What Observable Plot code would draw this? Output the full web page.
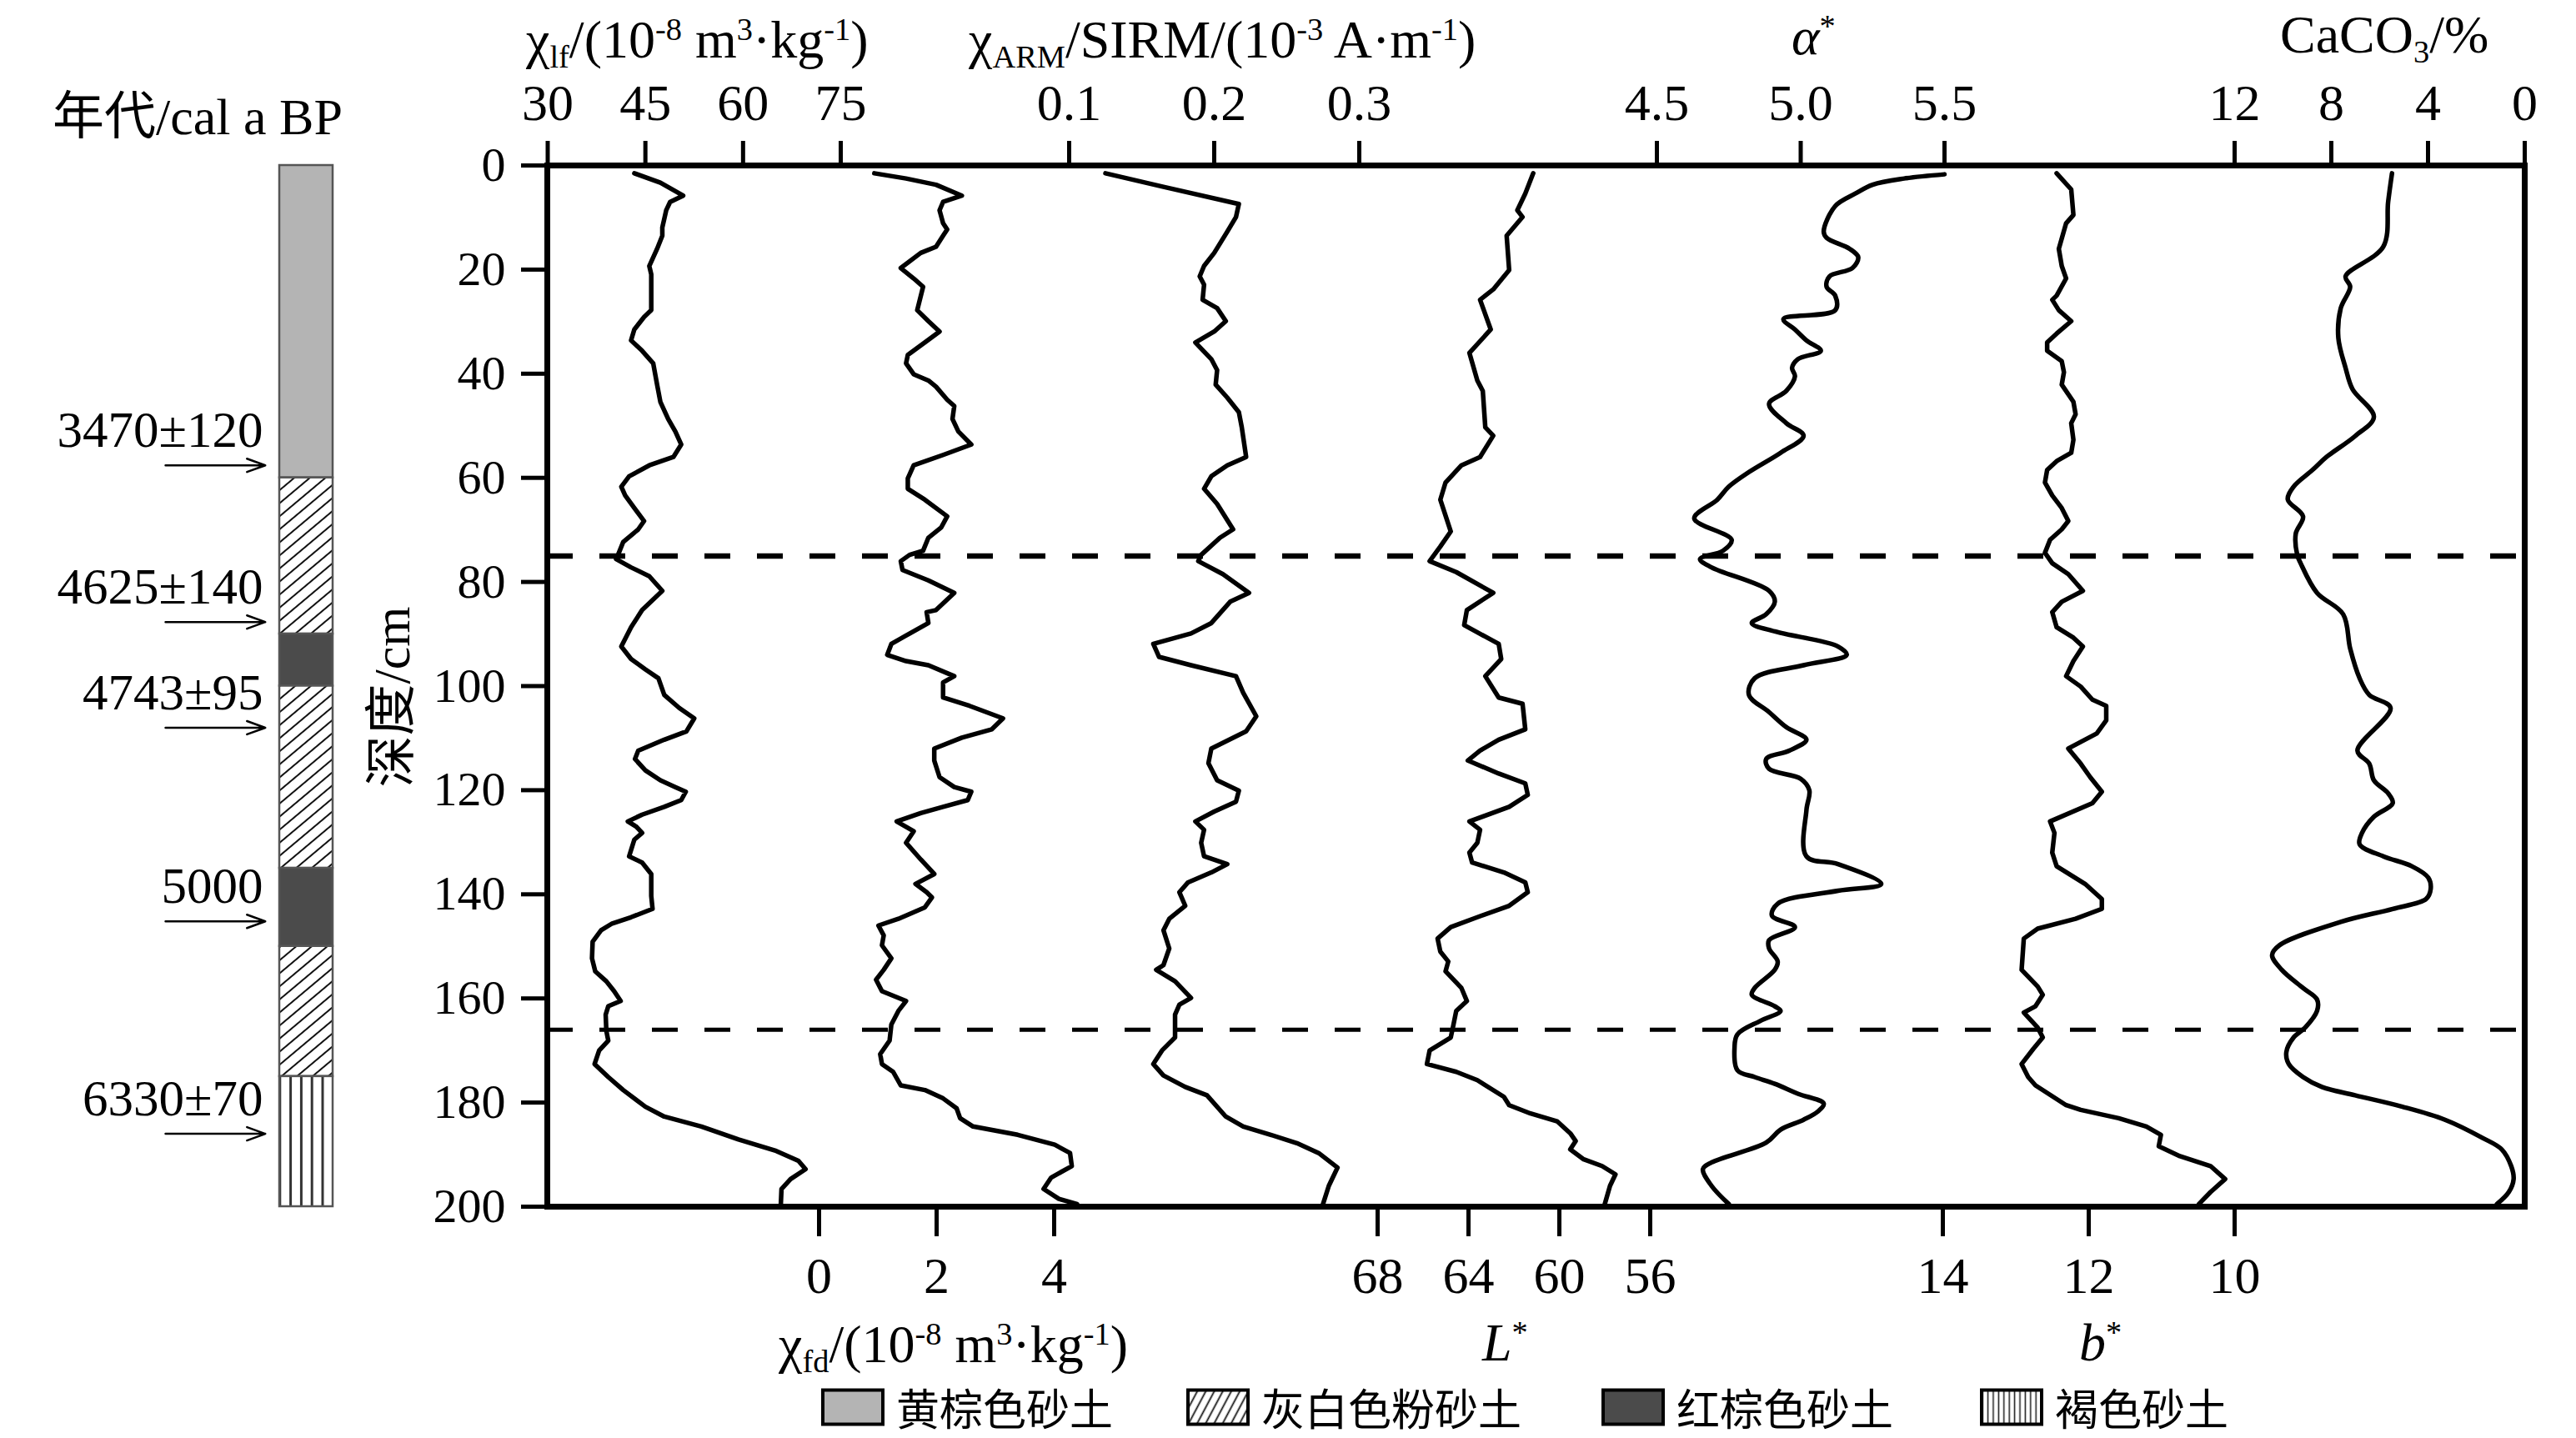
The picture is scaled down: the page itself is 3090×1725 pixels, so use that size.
<!DOCTYPE html>
<html>
<head>
<meta charset="utf-8">
<script src="https://cdn.jsdelivr.net/npm/d3@7"></script>
<script src="https://cdn.jsdelivr.net/npm/@observablehq/plot@0.6"></script>
<style>
html,body{margin:0;padding:0;background:#fff;overflow:hidden}
#chart{position:relative;width:3090px;height:1725px;font-family:"Liberation Serif","Times New Roman",serif;color:#000;background:#fff;overflow:hidden}
#chart svg.layer{position:absolute;left:0;top:0}
.t{position:absolute;white-space:nowrap;line-height:1;font-size:64px}
.sub{font-size:0.6em;position:relative;top:0.3em}
.sup{font-size:0.6em;position:relative;top:-0.55em}
.cjk{font-family:"Noto Sans CJK SC",sans-serif}
.leg{position:absolute;top:1664px;height:48px;display:flex;align-items:center;font-family:"Noto Sans CJK SC",sans-serif;font-size:52px;line-height:1}
.leg svg{display:block;margin-right:14px}
</style>
</head>
<body>
<svg width="0" height="0" style="position:absolute">
  <defs>
    <pattern id="hatchCol" patternUnits="userSpaceOnUse" width="12" height="12" patternTransform="rotate(50)">
      <rect width="12" height="12" fill="#fff"/>
      <line x1="6" y1="0" x2="6" y2="12" stroke="#111" stroke-width="2"/>
    </pattern>
    <pattern id="vlinesCol" patternUnits="userSpaceOnUse" x="1.5" width="12.8" height="20">
      <rect width="12.8" height="20" fill="#fff"/>
      <line x1="1.5" y1="0" x2="1.5" y2="20" stroke="#333" stroke-width="3"/>
    </pattern>
    <pattern id="hatchLeg" patternUnits="userSpaceOnUse" width="9" height="9" patternTransform="rotate(28)">
      <rect width="9" height="9" fill="#fff"/>
      <line x1="4.5" y1="0" x2="4.5" y2="9" stroke="#111" stroke-width="1.8"/>
    </pattern>
    <pattern id="vlinesLeg" patternUnits="userSpaceOnUse" width="6.4" height="10">
      <rect width="6.4" height="10" fill="#fff"/>
      <line x1="3.2" y1="0" x2="3.2" y2="10" stroke="#222" stroke-width="1.6"/>
    </pattern>
  </defs>
</svg>
<div id="chart"></div>
<script>
// ---------------- data ----------------
const depthTicks = [0, 20, 40, 60, 80, 100, 120, 140, 160, 180, 200];
const chiLfTicks = [30, 45, 60, 75];
const chiFdTicks = [0, 2, 4];
const armTicks = [0.1, 0.2, 0.3];
const lTicks = [68, 64, 60, 56];
const alphaTicks = [4.5, 5.0, 5.5];
const bTicks = [14, 12, 10];
const caco3Ticks = [12, 8, 4, 0];
const boundaryDepths = [75, 166];

const lithTop = [0, 60, 90, 100, 135, 150, 175];
const lithBottom = [60, 90, 100, 135, 150, 175, 200];
const lithType = ["黄棕色砂土", "灰白色粉砂土", "红棕色砂土", "灰白色粉砂土", "红棕色砂土", "灰白色粉砂土", "褐色砂土"];
const lithNames = ["黄棕色砂土", "灰白色粉砂土", "红棕色砂土", "褐色砂土"];

const ageLabels = ["3470±120", "4625±140", "4743±95", "5000", "6330±70"];
const ageDepths = [57.6, 87.7, 108.0, 145.2, 186.0];

const depthChiLf = [1.5,3.3,5.8,7.0,8.6,11.9,13.5,16.0,19.3,20.9,27.8,29.1,31.5,33.6,35.6,38.0,42.1,45.4,48.7,51.1,53.6,56.0,57.6,59.7,61.7,63.4,65.8,68.3,69.9,72.3,74.8,75.6,77.2,78.9,81.7,85.4,88.7,92.4,94.8,96.8,98.5,101.7,104.2,106.2,108.7,110.3,112.4,114.0,116.2,118.1,119.4,120.3,121.9,123.2,124.7,126.0,127.0,128.2,129.5,132.7,133.9,136.1,140.3,142.8,144.4,145.6,146.9,149.1,152.3,154.8,156.7,158.6,160.5,161.5,163.1,166.2,168.1,170.0,172.6,175.1,177.6,180.8,182.7,184.6,187.1,189.3,191.2,192.8,194.7,196.6,199.5];
const chiLf = [43.3,47.3,50.8,48.8,48.2,47.6,47.6,46.8,45.6,45.9,45.9,44.8,43.3,42.8,44.5,46.2,46.8,47.3,48.5,49.6,50.5,49.3,45.6,42.5,41.3,41.9,43.3,44.8,43.9,41.6,40.8,40.5,42.8,45.6,47.6,44.5,42.8,41.3,42.8,45.0,47.0,47.9,50.2,52.5,51.3,47.9,43.9,43.4,45.0,47.3,49.6,51.2,50.5,47.9,44.5,42.3,43.6,44.5,43.3,42.5,44.5,45.9,45.9,46.1,42.8,39.9,38.2,36.9,36.8,37.3,39.0,40.2,41.2,39.3,38.9,39.0,39.3,37.9,37.2,39.3,41.6,45.0,47.9,53.6,59.3,65.1,68.5,69.6,67.3,65.9,65.8];

const depthChiFd = [1.5,2.5,3.7,5.8,7.0,8.6,11.1,12.3,13.5,15.6,16.8,19.7,21.7,23.3,27.8,29.9,31.9,34.0,36.4,38.0,40.1,41.3,42.5,45.0,46.2,48.7,51.1,53.6,55.6,57.6,60.1,62.1,64.2,67.4,69.5,71.5,74.0,74.8,76.0,77.7,79.7,82.1,85.4,85.8,87.9,90.3,91.9,94.0,95.2,96.0,98.1,99.3,102.2,103.8,106.2,108.3,109.9,112.0,114.3,117.5,119.4,120.3,121.9,123.2,124.4,126.0,127.9,130.1,133.3,136.1,138.0,139.6,140.6,142.5,144.7,146.0,147.9,149.8,152.3,154.5,156.4,158.6,160.5,162.4,165.0,168.1,170.7,172.6,174.1,176.7,177.6,179.2,181.1,183.0,184.6,186.2,188.1,189.7,192.2,194.4,196.6,198.5,199.5];
const chiFd = [0.94,1.48,1.99,2.43,2.11,2.05,2.11,2.18,2.11,1.99,1.73,1.39,1.61,1.77,1.67,1.86,2.05,1.80,1.51,1.48,1.61,1.86,1.99,2.18,2.30,2.27,2.37,2.59,2.11,1.61,1.51,1.51,1.80,2.18,2.08,1.86,1.77,1.54,1.39,1.42,1.86,2.30,1.99,1.83,1.86,1.48,1.23,1.16,1.48,1.86,2.30,2.11,2.11,2.56,3.13,2.94,2.43,1.96,1.96,2.05,2.30,2.59,2.53,2.11,1.73,1.32,1.61,1.48,1.73,1.96,1.64,1.83,1.92,1.80,1.35,1.01,1.10,1.07,1.23,1.10,0.97,1.07,1.48,1.35,1.23,1.20,1.04,1.07,1.26,1.39,1.80,2.11,2.34,2.40,2.62,3.38,4.01,4.27,4.30,3.95,3.82,4.08,4.39];

const depthArm = [1.5,4.1,7.4,9.9,12.7,16.8,19.3,21.3,22.9,25.8,27.4,29.9,31.9,34.0,37.2,39.3,42.1,44.6,47.4,50.3,56.0,57.6,59.7,62.1,65.0,69.9,71.5,74.8,76.0,78.5,82.1,83.8,87.9,89.9,91.9,94.4,96.0,98.1,101.3,105.8,108.7,112.0,114.8,118.1,120.1,122.2,124.1,126.0,127.6,130.1,132.7,134.2,135.8,137.7,139.6,142.2,144.7,146.9,150.4,153.6,154.5,156.7,159.9,161.2,163.1,167.5,170.0,172.6,174.8,177.0,178.6,182.7,184.6,186.2,187.8,189.7,192.5,196.0,199.5];
const arm = [0.125,0.165,0.217,0.215,0.209,0.200,0.193,0.190,0.193,0.192,0.202,0.208,0.200,0.187,0.198,0.202,0.201,0.209,0.217,0.219,0.222,0.209,0.198,0.193,0.202,0.213,0.204,0.191,0.189,0.206,0.224,0.211,0.198,0.184,0.158,0.162,0.184,0.215,0.220,0.229,0.222,0.198,0.196,0.202,0.217,0.215,0.200,0.187,0.193,0.191,0.193,0.209,0.198,0.182,0.176,0.180,0.169,0.165,0.169,0.165,0.160,0.173,0.184,0.176,0.173,0.173,0.164,0.158,0.165,0.180,0.195,0.208,0.220,0.239,0.257,0.272,0.285,0.279,0.275];

const depthL = [1.5,5.4,8.6,9.9,13.5,20.1,23.8,25.8,31.5,36.0,41.3,43.3,50.3,51.9,56.0,57.6,60.9,64.2,70.3,73.2,76.0,78.1,82.1,85.4,88.3,91.9,94.8,98.1,102.2,103.4,108.3,110.3,112.4,114.3,116.8,118.7,120.9,123.2,126.0,127.6,130.1,132.0,133.9,135.8,137.7,139.6,142.2,144.4,146.3,148.5,151.0,152.9,154.8,158.0,160.5,162.4,165.0,167.5,170.0,172.6,174.1,175.7,178.9,180.5,182.1,183.6,185.9,187.4,189.0,190.9,192.2,193.8,196.0,199.5];
const lightness = [61.15,61.50,61.85,61.62,62.32,62.21,62.91,63.49,63.02,63.96,63.61,63.37,63.26,62.91,63.49,64.31,65.01,65.24,64.78,65.24,65.71,64.54,62.91,64.07,64.19,62.67,62.56,63.26,62.67,61.62,61.50,62.67,63.49,64.03,62.67,61.50,61.39,62.21,63.96,63.49,63.61,63.96,63.84,62.44,61.50,61.39,62.21,63.61,64.78,65.36,65.24,64.89,65.01,64.31,64.07,64.54,64.66,64.78,65.71,65.83,64.54,63.61,62.44,62.21,61.27,60.10,59.52,59.28,59.52,58.93,58.12,57.53,57.77,58.00];

const depthAlpha = [1.7,2.5,3.7,5.4,7.8,12.7,13.9,16.0,17.6,19.7,21.3,23.3,25.0,27.8,29.5,31.5,33.6,35.6,37.2,38.9,40.5,43.3,45.8,49.5,51.9,55.2,58.9,61.7,64.2,67.8,71.9,74.0,75.6,77.2,81.7,83.8,86.2,87.9,89.5,92.4,94.0,96.0,98.5,101.7,105.0,107.9,110.3,112.4,114.0,115.9,117.8,120.0,123.8,132.7,134.2,138.0,139.3,141.8,144.1,146.3,148.8,150.4,152.9,154.5,158.0,159.3,161.5,162.4,164.3,166.9,169.4,173.8,175.1,176.4,178.3,180.2,181.7,183.3,185.2,187.7,191.5,192.8,196.0,199.5];
const alpha = [5.50,5.36,5.25,5.19,5.12,5.08,5.09,5.17,5.20,5.18,5.10,5.09,5.12,5.12,4.94,4.98,5.02,5.07,4.99,4.97,4.98,4.95,4.89,4.95,5.01,4.93,4.82,4.75,4.71,4.63,4.76,4.73,4.65,4.69,4.89,4.91,4.88,4.83,4.91,5.13,5.16,5.01,4.84,4.82,4.89,4.95,5.02,4.96,4.88,4.89,5.00,5.03,5.02,5.02,5.13,5.28,5.13,4.92,4.90,4.98,4.89,4.89,4.92,4.91,4.84,4.83,4.91,4.93,4.86,4.78,4.77,4.78,4.84,4.91,4.99,5.08,5.06,5.01,4.93,4.88,4.69,4.66,4.69,4.75];

const depthB = [1.5,4.6,9.5,11.1,16.0,19.3,21.7,25.0,25.8,27.8,29.9,32.3,34.0,35.6,37.6,39.7,42.1,45.4,47.8,49.5,52.7,55.2,56.8,58.5,60.9,63.4,65.8,68.3,69.9,71.9,74.4,76.4,78.5,81.7,83.8,85.8,88.7,90.7,92.4,95.2,98.1,100.1,102.6,103.8,106.6,109.1,112.0,114.9,117.5,120.3,122.5,126.0,128.2,132.0,134.6,138.0,140.9,142.8,144.7,146.6,148.5,154.5,157.7,159.3,161.5,162.7,165.6,167.5,169.7,172.6,175.1,176.7,180.5,181.4,183.0,184.6,186.2,188.4,190.3,192.2,194.7,197.2,199.5];
const bStar = [12.44,12.24,12.21,12.31,12.41,12.37,12.31,12.44,12.50,12.41,12.24,12.44,12.57,12.57,12.37,12.34,12.37,12.21,12.18,12.24,12.21,12.24,12.44,12.57,12.60,12.50,12.37,12.28,12.37,12.53,12.60,12.50,12.28,12.08,12.37,12.50,12.44,12.21,12.08,12.21,12.31,12.11,11.95,11.76,11.76,11.89,12.28,12.11,11.98,11.82,11.95,12.53,12.47,12.50,12.44,12.05,11.82,11.82,12.18,12.70,12.89,12.92,12.70,12.63,12.73,12.89,12.70,12.63,12.76,12.92,12.83,12.73,12.31,12.11,11.59,11.21,11.01,11.04,10.75,10.33,10.13,10.33,10.49];

const depthCaCO3 = [1.5,7.0,15.6,21.3,23.3,27.4,33.1,38.9,43.0,48.3,52.0,56.0,58.5,61.7,64.2,67.4,70.7,74.8,76.4,82.1,86.2,92.8,98.5,101.7,104.2,112.4,114.9,118.1,120.6,122.5,125.1,128.2,130.4,132.7,134.6,136.8,139.0,140.9,142.8,145.3,149.8,151.7,154.5,158.0,160.2,162.4,165.6,167.5,170.3,172.6,175.1,177.0,178.6,180.8,183.3,186.8,189.0,192.2,194.7,197.2,199.5];
const caco3 = [5.49,5.65,5.85,7.41,7.22,7.61,7.71,7.41,7.12,6.24,7.02,8.20,8.78,9.56,9.80,9.17,9.47,9.41,9.27,8.59,7.51,7.22,6.83,6.43,5.55,6.92,6.43,6.24,5.65,5.46,6.24,6.73,6.83,5.85,4.67,3.99,3.89,4.08,5.46,7.61,10.15,10.45,10.05,9.17,8.59,8.59,9.08,9.56,9.86,9.76,9.17,8.39,7.02,5.06,3.30,1.74,0.95,0.56,0.46,0.66,1.15];

// ---------------- layout ----------------
const W = 3090, H = 1725;
const frameL = 656, frameR = 3028, frameT = 198, frameB = 1447;
const colL = 335, colR = 399;
const lithFills = ["#b4b4b4", "url(#hatchCol)", "#4b4b4b", "url(#vlinesCol)"];

const series = [
  {depth: depthChiLf, value: chiLf, ticks: chiLfTicks, anchor: "top", domain: [30, 75], range: [656.5, 1008], fmt: "d", curve: "linear"},
  {depth: depthChiFd, value: chiFd, ticks: chiFdTicks, anchor: "bottom", domain: [0, 4], range: [982, 1264], fmt: "d", curve: "linear"},
  {depth: depthArm, value: arm, ticks: armTicks, anchor: "top", domain: [0.1, 0.3], range: [1282, 1630], fmt: ".1f", curve: "linear"},
  {depth: depthL, value: lightness, ticks: lTicks, anchor: "bottom", domain: [68, 56], range: [1652, 1979], fmt: "d", curve: "linear"},
  {depth: depthAlpha, value: alpha, ticks: alphaTicks, anchor: "top", domain: [4.5, 5.5], range: [1987, 2332], fmt: ".1f", curve: "catmull-rom"},
  {depth: depthB, value: bStar, ticks: bTicks, anchor: "bottom", domain: [14, 10], range: [2330, 2680], fmt: "d", curve: "linear"},
  {depth: depthCaCO3, value: caco3, ticks: caco3Ticks, anchor: "top", domain: [12, 0], range: [2680, 3028], fmt: "d", curve: "catmull-rom"}
];

const baseStyle = {background: "transparent", overflow: "visible", fontFamily: "'Liberation Serif','Times New Roman',serif", color: "#000", fontSize: "62px"};

function opts(extra) {
  return Object.assign({
    width: W, height: H,
    marginLeft: frameL, marginRight: W - frameR, marginTop: frameT, marginBottom: H - frameB,
    y: {domain: [0, 200], reverse: true, axis: null},
    style: baseStyle
  }, extra);
}

const chart = document.getElementById("chart");
function addLayer(svg) { svg.classList.add("layer"); chart.appendChild(svg); }

// base: frame, depth axis, boundary lines
addLayer(Plot.plot(opts({
  x: {domain: [0, 1], axis: null},
  marks: [
    Plot.ruleY([boundaryDepths[0]], {stroke: "#000", strokeWidth: 6.5, strokeDasharray: "31,32"}),
    Plot.ruleY([boundaryDepths[1]], {stroke: "#000", strokeWidth: 5, strokeDasharray: "31,32"}),
    Plot.axisY(depthTicks, {anchor: "left", tickSize: 31, tickPadding: 19, strokeWidth: 5, fontSize: 58, label: null, tickFormat: d3.format("d")}),
    Plot.frame({stroke: "#000", strokeWidth: 7})
  ]
})));

// each series with its own x scale
for (const s of series) {
  const data = s.depth.map((d, i) => ({d, v: s.value[i]}));
  addLayer(Plot.plot(opts({
    x: {domain: s.domain, range: s.range, axis: null},
    marks: [
      Plot.axisX(s.ticks, {anchor: s.anchor, tickSize: s.anchor === "top" ? 30 : 36, tickPadding: s.anchor === "top" ? 25 : 23, strokeWidth: 5, fontSize: 62, label: null, tickFormat: d3.format(s.fmt)}),
      Plot.lineX(data, {x: "v", y: "d", stroke: "#000", strokeWidth: 5.5, strokeLinejoin: "round", strokeLinecap: "round", curve: s.curve})
    ]
  })));
}

// stratigraphic column
const lith = lithTop.map((t, i) => ({top: t, bottom: lithBottom[i], type: lithType[i]}));
const ages = ageLabels.map((l, i) => ({label: l, depth: ageDepths[i]}));
addLayer(Plot.plot(opts({
  marginLeft: colL, marginRight: W - colR,
  x: {domain: [0, 1], axis: null},
  color: {domain: lithNames, range: lithFills},
  marks: [
    Plot.rect(lith, {x1: 0, x2: 1, y1: "top", y2: "bottom", fill: "type", stroke: "#555", strokeWidth: 2.5}),
    Plot.arrow(ages, {x1: -2.14, x2: -0.27, y1: "depth", y2: "depth", stroke: "#000", strokeWidth: 2.5, headLength: 14, headAngle: 40}),
    Plot.text(ages, {x: 0, y: "depth", text: "label", textAnchor: "end", lineAnchor: "bottom", dx: -20, dy: -22, fontSize: 61, fill: "#000"})
  ]
})));

// axis titles (HTML so that sub/superscripts are real text)
const titles = [
  {html: 'χ<span class="sub">lf</span>/(10<span class="sup">-8</span> m<span class="sup">3</span>·kg<span class="sup">-1</span>)', left: 631, top: 16},
  {html: 'χ<span class="sub">ARM</span>/SIRM/(10<span class="sup">-3</span> A·m<span class="sup">-1</span>)', left: 1162, top: 16},
  {html: '<i>α</i><span class="sup">*</span>', left: 2149, top: 12},
  {html: 'CaCO<span class="sub">3</span>/%', left: 2735, top: 10},
  {html: 'χ<span class="sub">fd</span>/(10<span class="sup">-8</span> m<span class="sup">3</span>·kg<span class="sup">-1</span>)', left: 934, top: 1581},
  {html: '<i>L</i><span class="sup">*</span>', left: 1778, top: 1579},
  {html: '<i>b</i><span class="sup">*</span>', left: 2494, top: 1579},
  {html: '<span class="cjk">年代</span>/cal a BP', left: 63, top: 103, size: 62}
];
for (const t of titles) {
  const div = document.createElement("div");
  div.className = "t";
  div.style.left = t.left + "px";
  div.style.top = t.top + "px";
  if (t.size) div.style.fontSize = t.size + "px";
  div.innerHTML = t.html;
  chart.appendChild(div);
}
const yl = document.createElement("div");
yl.className = "t";
yl.style.fontSize = "62px";
yl.style.left = "467px";
yl.style.top = "836px";
yl.style.transform = "translate(-50%,-50%) rotate(-90deg)";
yl.innerHTML = '<span class="cjk">深度</span>/cm';
chart.appendChild(yl);

// legend
const legendFills = ["#b4b4b4", "url(#hatchLeg)", "#4b4b4b", "url(#vlinesLeg)"];
const legendLefts = [985, 1423, 1921, 2375];
lithNames.forEach((name, i) => {
  const item = document.createElement("div");
  item.className = "leg";
  item.style.left = legendLefts[i] + "px";
  item.innerHTML = `<svg width="76" height="46"><rect x="2" y="2.5" width="72" height="41" fill="${legendFills[i]}" stroke="#000" stroke-width="4"/></svg><span>${name}</span>`;
  chart.appendChild(item);
});
</script>
</body>
</html>
